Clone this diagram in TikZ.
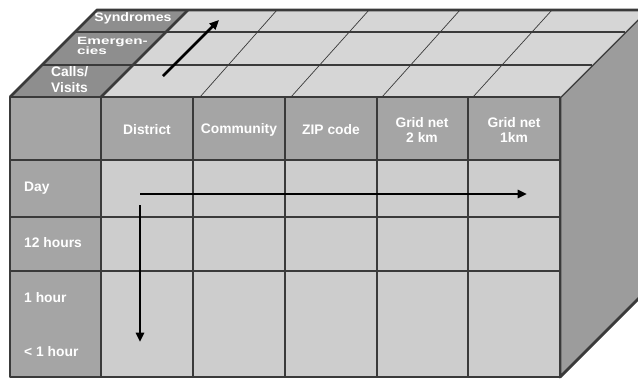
\documentclass[tikz,border=0pt]{standalone}
\usepackage{fontspec}
\setmainfont{Liberation Sans}
\usetikzlibrary{arrows.meta}
\definecolor{cellgray}{HTML}{CDCDCD}
\definecolor{headgray}{HTML}{A5A5A5}
\definecolor{topgray}{HTML}{D6D6D6}
\definecolor{toplabgray}{HTML}{8E8E8E}
\definecolor{sidegray}{HTML}{9C9C9C}
\definecolor{edgegray}{HTML}{3A3A3A}
\begin{document}
\begin{tikzpicture}[x=0.03cm,y=-0.03cm,
    thin grid/.style={draw=edgegray,line width=0.9pt},
    thick grid/.style={draw=edgegray,line width=2.4pt,line join=round},
    lbl/.style={text=white,inner sep=0pt,font=\bfseries\fontsize{11.8}{13.6}\selectfont},
    flow/.style={line width=2.4pt,-{Triangle[length=8pt,width=7pt]}}]
      \useasboundingbox (0,0) rectangle (638,378);
      \clip (0,0) rectangle (638,378);

      % side of the cube
      \filldraw[fill=sidegray,thick grid] (560,97) -- (647,10) -- (647,290) -- (560,377) -- cycle;

      % top of the cube
      \fill[topgray] (10,97) -- (97,10) -- (647,10) -- (560,97) -- cycle;
      \fill[toplabgray] (10,97) -- (97,10) -- (188,10) -- (101,97) -- cycle;
      \foreach \d in {32,65}
      {
        \draw[thin grid] (10+\d,97-\d) -- (560+\d,97-\d);
      }
      \foreach \a/\b in {200/277,291/369,382/460,473/552}
      {
        \draw[thin grid,line width=0.6pt] (\a,97) -- (\b,10);
      }
      \draw[thick grid] (101,97) -- (188,10);
      \draw[thick grid] (10,97) -- (97,10) -- (647,10);

      % front of the cube
      \fill[cellgray] (10,97) rectangle (560,377);
      \fill[headgray] (10,97) rectangle (560,160);
      \fill[headgray] (10,160) rectangle (101,377);
      \foreach \x in {193,285,377,468}
      {
        \draw[thin grid] (\x,97) -- (\x,377);
      }
      \foreach \y in {217,271}
      {
        \draw[thin grid] (10,\y) -- (560,\y);
      }
      \draw[thick grid] (101,97) -- (101,377) (10,160) -- (560,160);
      \draw[thick grid] (10,97) rectangle (560,377);

      \foreach \l/\x[count=\i] in {
        District/147,
        Community/239,
        ZIP code/331,
        {Grid net\\2 km}/422,
        {Grid net\\1km}/514
      }
      {
        \node[lbl,align=center] (col\i) at (\x,130) {\l};
      }
      \foreach \l/\y[count=\i] in {
        Day/188,
        12 hours/243,
        1 hour/298,
        {< 1 hour}/352
      }
      {
        \node[lbl,anchor=west] (row\i) at (24,\y) {\l};
      }

      \node[lbl,font=\bfseries\fontsize{10.5}{11}\selectfont] (synd) at (133,18) {\scalebox{1.15}[1]{Syndromes}};
      \node[lbl,anchor=west,align=left,font=\bfseries\fontsize{9}{8.5}\selectfont] (emerg) at (77,46)
        {\scalebox{1.45}[1]{Emergen-}\\\scalebox{1.45}[1]{cies}};
      \node[lbl,anchor=west,align=left] (calls) at (51,80) {Calls/\\Visits};

      \coordinate (hfrom) at (140,194);
      \coordinate (hto) at (527,194);
      \coordinate (vfrom) at (140,205);
      \coordinate (vto) at (140,342);
      \coordinate (dfrom) at (163,76);
      \coordinate (dto) at (219,20);
      \draw[flow] (hfrom) -- (hto);
      \draw[flow] (vfrom) -- (vto);
      \draw[flow] (dfrom) -- (dto);
    \end{tikzpicture}
\end{document}
